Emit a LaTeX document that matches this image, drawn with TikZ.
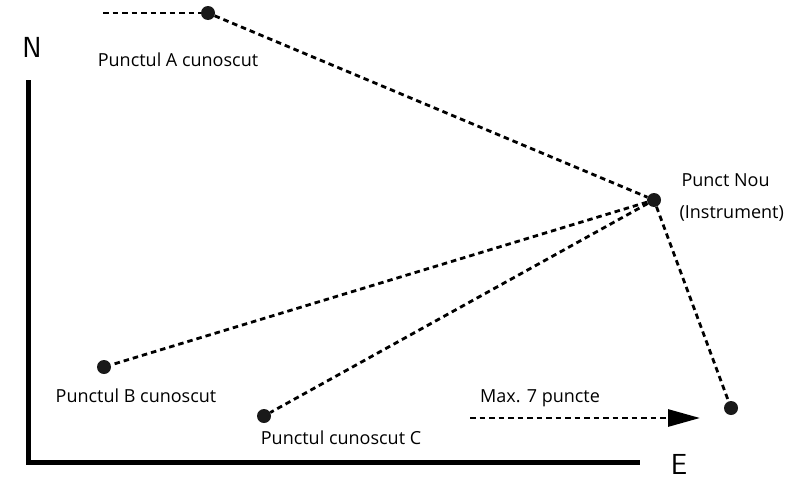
\documentclass[tikz,border=0pt]{standalone}
\usepackage{fontspec}
\setmainfont{Open Sans}
\usetikzlibrary{arrows.meta}

\begin{document}
\begin{tikzpicture}[
    x=1pt, y=-1pt,
    every node/.style={font=\fontsize{18}{20}\selectfont},
    pt/.style={circle, fill=black!90, inner sep=0pt, minimum size=14pt},
    sight/.style={line width=2.8pt, dash pattern=on 5.5pt off 4pt},
    axis/.style={line width=5pt}
]

\useasboundingbox (0,0) rectangle (789,479);

% known and new points
\node[pt] (A) at (208,13) {};
\node[pt] (nou) at (654,200) {};
\node[pt] (B) at (104,367) {};
\node[pt] (C) at (264,416) {};
\node[pt] (D) at (731,408) {};
\coordinate (a0) at (103,13);

% sight lines
\draw[sight] (a0) -- (A);
\draw[sight] (A) -- (nou);
\draw[sight] (nou) -- (B);
\draw[sight] (nou) -- (C);
\draw[sight] (nou) -- (D);

% labels
\node (lA) at (178,60) {Punctul A cunoscut};
\node[anchor=west] (lnou) at (678,180) {Punct Nou};
\node[anchor=west] (linstr) at (676,213) {(Instrument)};
\node (lB) at (136,396) {Punctul B cunoscut};
\node (lC) at (341,438) {Punctul cunoscut C};

% further points
\coordinate (m0) at (470,418);
\coordinate (m1) at (700,418);
\draw[sight, -{Triangle[length=32pt, width=17pt]}] (m0) -- (m1);
\node (lmax) at (540,398) {Max. 7 puncte};

% axes
\draw[axis] (28,80) -- (28,462) -- (640,462);
\node[font=\fontsize{29}{31}\sffamily] (N) at (32,47) {N};
\node[font=\fontsize{29}{31}\sffamily] (E) at (679,464) {E};

\end{tikzpicture}
\end{document}
